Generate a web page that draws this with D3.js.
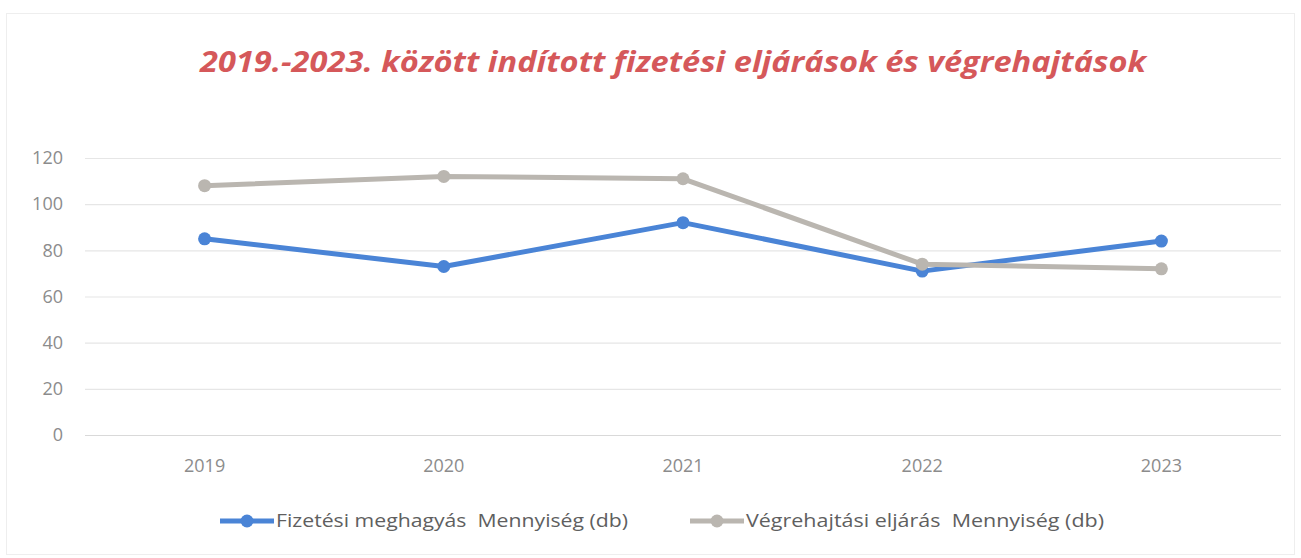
<!DOCTYPE html>
<html>
<head>
<meta charset="utf-8">
<script src="https://cdn.jsdelivr.net/npm/d3@7"></script>
<style>
  body { margin: 0; background: #fff; }
  svg { display: block; font-family: "Open Sans", "DejaVu Sans", sans-serif; }
</style>
</head>
<body>
<div id="chart"></div>
<script>
let years      = ["2019", "2020", "2021", "2022", "2023"];
let fizetesi   = [85, 73, 92, 71, 84];
let vegrehajt  = [108, 112, 111, 74, 72];
let yTicks     = [0, 20, 40, 60, 80, 100, 120];
let seriesNames = [
  "Fizetési meghagyás  Mennyiség (db)",
  "Végrehajtási eljárás  Mennyiség (db)"
];
let titleText = "2019.-2023. között indított fizetési eljárások és végrehajtások";

let exteriorWidth  = 1301,
    exteriorHeight = 558;

let margin = { top: 158, right: 20, bottom: 123, left: 85 };

let interiorWidth  = exteriorWidth - margin.left - margin.right,
    interiorHeight = exteriorHeight - margin.top - margin.bottom;

let svg =
  d3.select("#chart")
    .append("svg")
      .attr("width", exteriorWidth)
      .attr("height", exteriorHeight);

// faint frame
svg.append("rect")
    .attr("x", 6.5).attr("y", 13.5)
    .attr("width", exteriorWidth - 13).attr("height", exteriorHeight - 17)
    .attr("fill", "none")
    .attr("stroke", "#eeeeee");

svg.append("text")
    .attr("x", 673)
    .attr("y", 72)
    .attr("text-anchor", "middle")
    .attr("fill", "#d5585a")
    .attr("font-size", 29)
    .attr("font-weight", "bold")
    .attr("font-style", "italic")
    .attr("textLength", 946)
    .attr("lengthAdjust", "spacingAndGlyphs")
    .text(titleText);

let g = svg.append("g")
    .attr("transform", translate(margin.left, margin.top));

let x = d3.scaleBand()
    .domain(years)
    .range([0, interiorWidth]);

let y = d3.scaleLinear()
    .domain([0, 120])
    .range([interiorHeight, 0]);

let cx = d => x(d) + x.bandwidth() / 2;

// gridlines
g.append("g")
    .call(d3.axisLeft(y).tickValues(yTicks).tickSize(-interiorWidth).tickFormat(""))
    .call(a => a.select(".domain").remove())
    .selectAll("line")
      .attr("stroke", d => d === 0 ? "#d9d9d9" : "#e6e6e6")
      .attr("stroke-width", 1.2);

// y labels
g.append("g")
    .call(d3.axisLeft(y).tickValues(yTicks).tickSize(0).tickPadding(22))
    .call(a => a.select(".domain").remove())
    .selectAll("text")
      .attr("fill", "#8c8c8c")
      .attr("font-size", 18)
      .attr("font-family", "'Open Sans', sans-serif");

// x labels
g.append("g")
    .attr("transform", translate(0, interiorHeight))
    .call(d3.axisBottom(x).tickSize(0).tickPadding(24))
    .call(a => a.select(".domain").remove())
    .selectAll("text")
      .attr("fill", "#8c8c8c")
      .attr("font-size", 18)
      .attr("font-family", "'Open Sans', sans-serif");

let series = [
  { name: seriesNames[0], values: fizetesi,  color: "#4a84d6", textLen: 352 },
  { name: seriesNames[1], values: vegrehajt, color: "#bab6b0", textLen: 358 }
];

let line = d3.line()
    .x((d, i) => cx(years[i]))
    .y(d => y(d));

series.forEach(s => {
  g.append("path")
      .datum(s.values)
      .attr("fill", "none")
      .attr("stroke", s.color)
      .attr("stroke-width", 5)
      .attr("stroke-linejoin", "round")
      .attr("d", line);
  g.selectAll(null)
    .data(s.values)
    .join("circle")
      .attr("cx", (d, i) => cx(years[i]))
      .attr("cy", d => y(d))
      .attr("r", 6.5)
      .attr("fill", s.color);
});

// legend
let legendX = [220, 690];
series.forEach((s, i) => {
  let lg = svg.append("g").attr("transform", translate(legendX[i], 521));
  lg.append("line")
      .attr("x1", 0).attr("x2", 54)
      .attr("stroke", s.color)
      .attr("stroke-width", 5);
  lg.append("circle")
      .attr("cx", 27).attr("r", 6.5)
      .attr("fill", s.color);
  lg.append("text")
      .attr("x", 56)
      .attr("dy", "0.35em")
      .attr("fill", "#5f5f5f")
      .attr("font-size", 18)
      .attr("textLength", s.textLen)
      .attr("lengthAdjust", "spacingAndGlyphs")
      .style("white-space", "pre")
      .attr("xml:space", "preserve")
      .text(s.name);
});

function translate(x, y=0) {
  return "translate({x}, {y})"
          .replace("{x}", x)
          .replace("{y}", y);
}
</script>
</body>
</html>
